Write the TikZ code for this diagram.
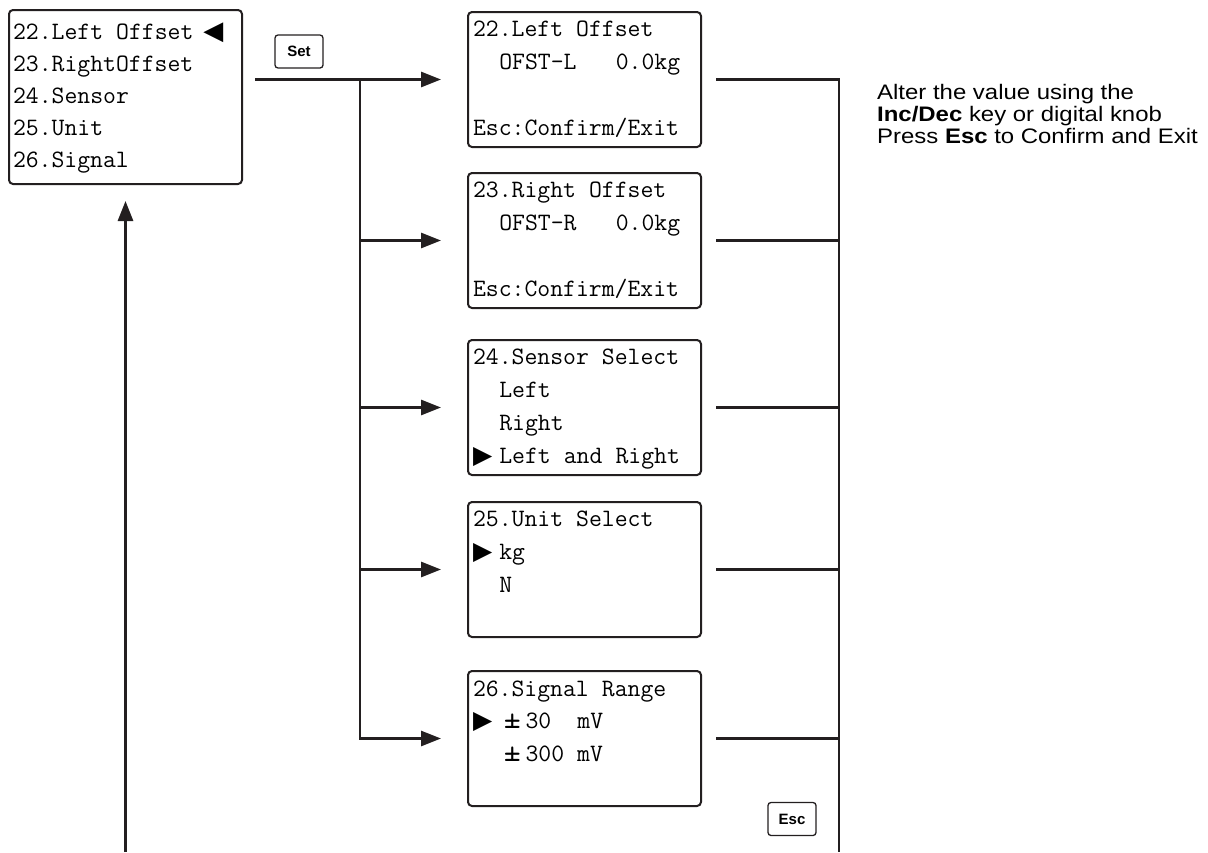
\documentclass[tikz,border=0pt]{standalone}
\usepackage{fontspec}
\usepackage{tikz}
\usetikzlibrary{arrows.meta,positioning,calc}
\newfontfamily\notefont[FakeStretch=1.14]{Liberation Sans}
\newfontfamily\keyfont{Liberation Sans}
\newfontfamily\symfont{DejaVu Sans}
\definecolor{ink}{RGB}{35,31,32}
\newcommand\lcd[2]{\ttfamily\frenchspacing\fontsize{#1}{#2}\selectfont}
\newcommand\curR{\makebox[1.05em][l]{\symfont\fontsize{25}{25}\selectfont ▶}}
\newcommand\curL{{\symfont\fontsize{26}{26}\selectfont ◀}}
\newcommand\pmw{\makebox[1.05em][c]{\fontsize{33}{33}\selectfont ±}}
\newcommand\ind{\hspace*{1.05em}}

\begin{document}
\begin{tikzpicture}[
    x=1pt, y=-1pt,
    screen/.style={draw=ink, line width=2pt, rounded corners=4pt, minimum width=233pt, minimum height=135pt, text width=223pt, inner xsep=5pt, inner ysep=0pt, align=left, font=\lcd{25}{32.7},
        execute at begin node={\spaceskip=0.525em\relax\xspaceskip=\spaceskip\strut}, execute at end node=\strut},
    menubox/.style={screen, minimum height=174pt, text width=225pt, inner xsep=4pt, font=\lcd{25}{32}},
    keybtn/.style={draw=ink, line width=1.3pt, rounded corners=3pt, minimum width=48pt, minimum height=33pt, inner sep=0pt, font=\keyfont\bfseries\fontsize{15}{15}\selectfont},
    wire/.style={line width=2.8pt, draw=ink},
    arr/.style={wire, -{Triangle[length=20pt, width=15pt]}},
    note/.style={anchor=north west, inner sep=0pt, align=left, font=\notefont\fontsize{21}{22}\selectfont}
]
    \useasboundingbox (0,0) rectangle (1208,852);

    \node[menubox] (menu) at (125.5,97) {22.Left Offset\hspace{10pt}\curL\\23.RightOffset\\24.Sensor\\25.Unit\\26.Signal};
    \node[keybtn] (set) at (299,51.5) {Set};

    \node[screen] (b22) at (584.5,79.5) {22.Left Offset\\\ind OFST-L~~~0.0kg\\\mbox{}\\Esc:Confirm/Exit};
    \node[screen, below=24pt of b22] (b23) {23.Right Offset\\\ind OFST-R~~~0.0kg\\\mbox{}\\Esc:Confirm/Exit};
    \node[screen, below=30pt of b23] (b24) {24.Sensor Select\\\ind Left\\\ind Right\\\curR Left and Right};
    \node[screen, below=25pt of b24] (b25) {25.Unit Select\\\curR kg\\\ind N\\\mbox{}};
    \node[screen, below=32pt of b25] (b26) {26.Signal Range\\\curR\pmw30~~mV\\\ind\pmw300~mV\\\mbox{}};
    \node[keybtn] (esc) at (792,819) {Esc};

    \node[note] (hint) at (877,84) {Alter the value using the\\\textbf{Inc/Dec} key or digital knob\\Press \textbf{Esc} to Confirm and Exit};

    \coordinate (tap) at ([xshift=12pt]menu.east |- b22.west);
    \path (tap) ++(105pt,0) coordinate (bus);
    \path ([xshift=14pt]b22.east) ++(123pt,0) coordinate (ret);
    \coordinate (floor) at (0,852);

    \draw[arr] (tap) -- ([xshift=-26pt]b22.west);
    \foreach \b in {b23,b24,b25}
        \draw[arr] (bus |- \b.west) -- ([xshift=-26pt]\b.west);
    \draw[arr] (bus) |- ([xshift=-26pt]b26.west);

    \draw[wire] ([xshift=14pt]b22.east) -| (ret |- floor);
    \foreach \b in {b23,b24,b25,b26}
        \draw[wire] ([xshift=14pt]\b.east) -- (\b.east -| ret);

    \draw[arr] (menu.south |- floor) -- ([yshift=-16pt]menu.south);
\end{tikzpicture}
\end{document}
